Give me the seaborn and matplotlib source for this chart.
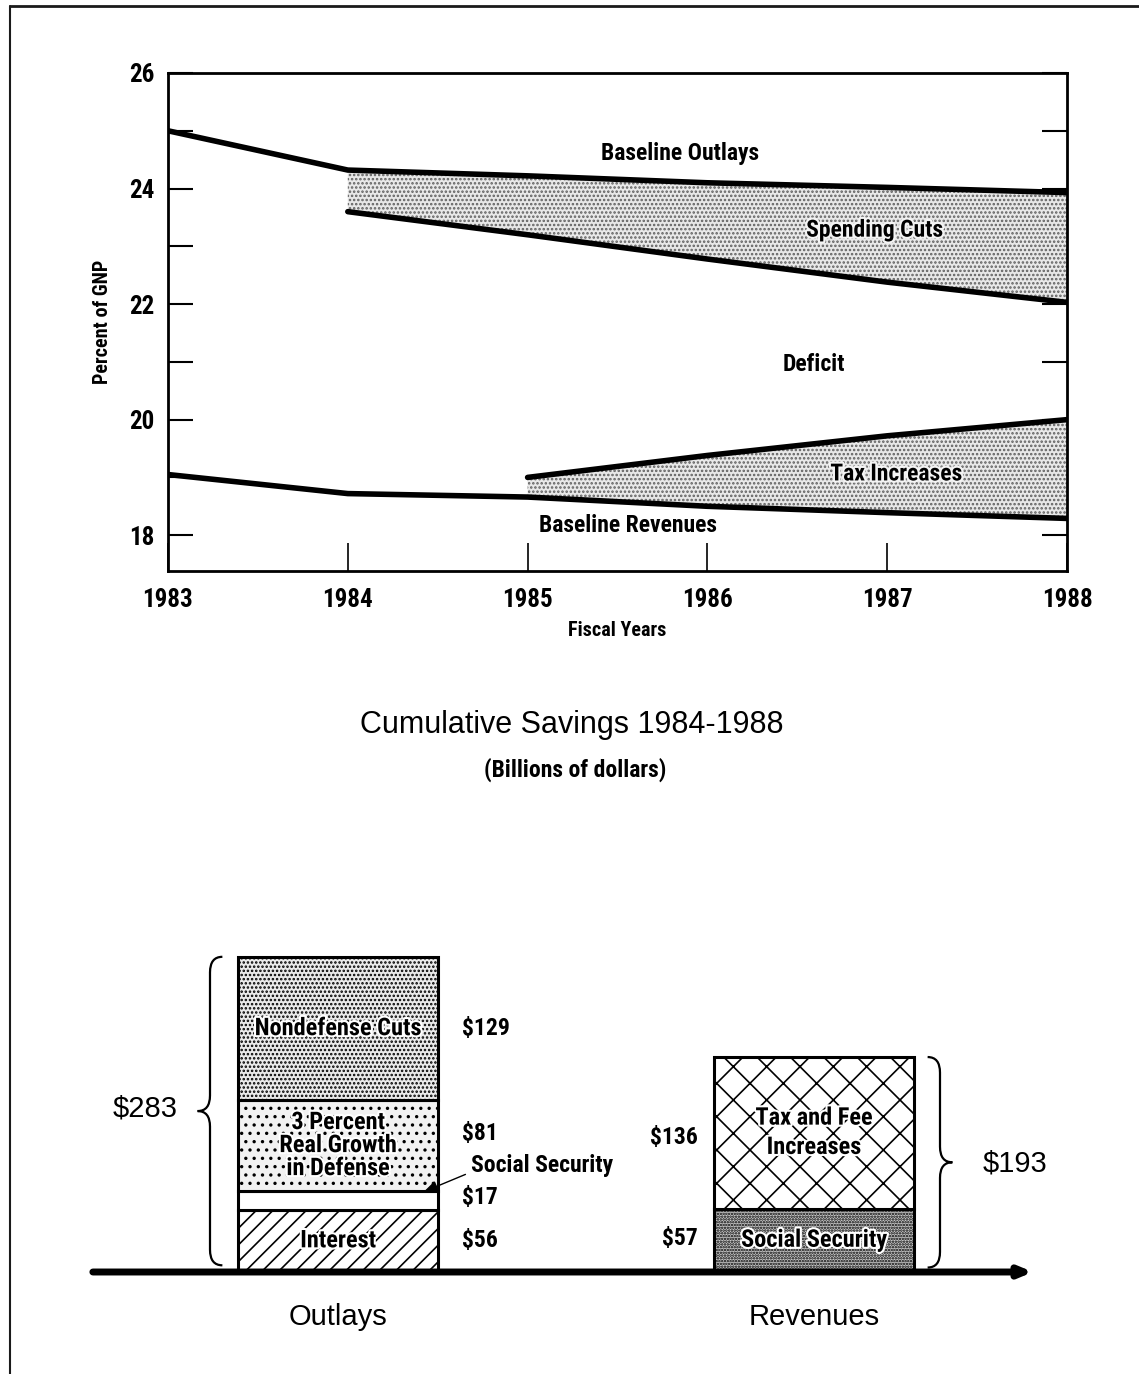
import numpy as np
import pandas as pd
import matplotlib
matplotlib.use("Agg")
import matplotlib.pyplot as plt
import matplotlib.patheffects as pe
from matplotlib.path import Path
from matplotlib.patches import PathPatch
from matplotlib.lines import Line2D
import seaborn as sns

# ---------------- data ----------------
years = [1983, 1984, 1985, 1986, 1987, 1988]
baseline_outlays = [25.0, 24.32, 24.22, 24.10, 24.02, 23.93]
cut_years = [1984, 1985, 1986, 1987, 1988]
outlays_after_cuts = [23.60, 23.20, 22.78, 22.38, 22.03]
tax_years = [1985, 1986, 1987, 1988]
revenues_after_tax = [19.00, 19.38, 19.72, 20.00]
baseline_revenues = [19.05, 18.72, 18.66, 18.50, 18.39, 18.29]

groups = ["Outlays", "Revenues"]
outlay_parts = ["Interest", "Social Security", "3 Percent\nReal Growth\nin Defense", "Nondefense Cuts"]
outlay_values = [56, 17, 81, 129]
revenue_parts = ["Social Security", "Tax and Fee\nIncreases"]
revenue_values = [57, 136]

# ---------------- style ----------------
sns.set_theme(style="white")
COND = ['Roboto Condensed', 'Archivo Narrow', 'Liberation Sans Narrow', 'DejaVu Sans']
plt.rcParams['font.family'] = COND
plt.rcParams['hatch.linewidth'] = 1.2
plt.rcParams['axes.unicode_minus'] = False
BOLD = dict(fontweight='bold', color='black')
REG_FAMILY = ['Liberation Sans', 'DejaVu Sans']

W, H = 1139, 1374
fig = plt.figure(figsize=(W / 100, H / 100), dpi=100)
fig.patch.set_facecolor('white')

# page frame (scan border)
fig.add_artist(Line2D([10 / W, 10 / W], [0, 1 - 6 / H], transform=fig.transFigure, color='k', lw=1.5))
fig.add_artist(Line2D([10 / W, 1], [1 - 6 / H, 1 - 6 / H], transform=fig.transFigure, color='k', lw=2))

# ---------------- top chart ----------------
ax = fig.add_axes([168 / W, 1 - 571 / H, 899 / W, 498 / H])
ax.fill_between(cut_years, baseline_outlays[1:], outlays_after_cuts,
                facecolor='#e8e8e8', hatch='....', edgecolor='#606060', linewidth=0, zorder=1)
ax.fill_between(tax_years, baseline_revenues[2:], revenues_after_tax,
                facecolor='#e8e8e8', hatch='....', edgecolor='#606060', linewidth=0, zorder=1)

sns.lineplot(x=years, y=baseline_outlays, ax=ax, color='black', lw=4, zorder=3)
sns.lineplot(x=cut_years, y=outlays_after_cuts, ax=ax, color='black', lw=4, zorder=3)
sns.lineplot(x=tax_years, y=revenues_after_tax, ax=ax, color='black', lw=4, zorder=3)
sns.lineplot(x=years, y=baseline_revenues, ax=ax, color='black', lw=4, zorder=3)

ax.set_xlim(1983, 1988)
ax.set_ylim(17.38, 26.0)
ax.set_xticks(years)
ax.set_xticklabels([str(y) for y in years], fontsize=18, **BOLD)
ax.set_yticks([18, 20, 22, 24, 26])
ax.set_yticklabels(['18', '20', '22', '24', '26'], fontsize=18, **BOLD)
ax.set_yticks([19, 21, 23, 25], minor=True)
ax.tick_params(axis='y', which='both', direction='in', length=18, width=1.5,
               left=True, right=True, color='black', pad=10)
ax.tick_params(axis='x', which='major', direction='in', length=20, width=1.2,
               bottom=True, top=False, color='black', pad=12)
for s in ax.spines.values():
    s.set_visible(True)
    s.set_color('black')
    s.set_linewidth(2)
ax.set_xlabel('Fiscal Years', fontsize=14.5, labelpad=7, **BOLD)
ax.set_ylabel('Percent of GNP', fontsize=14.5, labelpad=12, **BOLD)

txt_kw = dict(ha='center', va='center', fontsize=17, **BOLD)
halo = [pe.withStroke(linewidth=3, foreground='#f4f4f4')]
ax.text(1985.85, 24.61, 'Baseline Outlays', **txt_kw)
ax.text(1986.93, 23.28, 'Spending Cuts', path_effects=halo, zorder=4, **txt_kw)
ax.text(1986.59, 20.96, 'Deficit', **txt_kw)
ax.text(1987.05, 19.06, 'Tax Increases', path_effects=halo, zorder=4, **txt_kw)
ax.text(1985.56, 18.16, 'Baseline Revenues', **txt_kw)

# ---------------- titles ----------------
fig.text(572 / W, 1 - 725 / H, 'Cumulative Savings 1984-1988', ha='center', va='center',
         fontsize=22, family=REG_FAMILY, color='black')
fig.text(575 / W, 1 - 770 / H, '(Billions of dollars)', ha='center', va='center',
         fontsize=17, **BOLD)

# ---------------- bottom chart ----------------
ax2 = fig.add_axes([0, 1 - 1272 / H, 1, 372 / H])
bw = 0.42
outlay_styles = [
    dict(color='white', hatch='//'),
    dict(color='white', hatch=''),
    dict(color='#f2f2f2', hatch='..'),
    dict(color='#eaeaea', hatch='....'),
]
revenue_styles = [
    dict(color='#c8c8c8', hatch='......'),
    dict(color='white', hatch='x'),
]

def stack(group, values, styles):
    bottoms = np.concatenate([[0], np.cumsum(values)[:-1]])
    for v, b, st in zip(values, bottoms, styles):
        sns.barplot(x=[group], y=[v], order=groups, bottom=b, width=bw, ax=ax2,
                    color=st['color'], saturation=1, errorbar=None,
                    hatch=st['hatch'], edgecolor='black', linewidth=2.2, zorder=2)
    return bottoms

ob = stack('Outlays', outlay_values, outlay_styles)
rb = stack('Revenues', revenue_values, revenue_styles)

ax2.set_xlim(-338 / 476, (W - 338) / 476)
ax2.set_ylim(0, 334)
for s in ax2.spines.values():
    s.set_visible(False)
ax2.set_yticks([])
ax2.set_xlabel('')
ax2.set_ylabel('')
ax2.set_xticks([0, 1])
ax2.set_xticklabels(groups, fontsize=21, family=REG_FAMILY, color='black')
ax2.tick_params(axis='x', length=0, pad=22)

# baseline
ax2.annotate('', xy=(1.46, 0), xytext=(-0.515, 0),
             arrowprops=dict(arrowstyle='-|>,head_length=0.6,head_width=0.25', lw=5, color='black',
                             shrinkA=0, shrinkB=0), zorder=5, annotation_clip=False)

# labels inside bars
white_halo = [pe.withStroke(linewidth=3, foreground='white')]
in_kw = dict(ha='center', va='center', fontsize=17.5, **BOLD)
for name, v, b in zip(outlay_parts, outlay_values, ob):
    if name == 'Social Security':
        continue
    ax2.text(0, b + v / 2, name, path_effects=white_halo, zorder=6, linespacing=1.0, **in_kw)
rev_spacing = [1.0, 1.35]
for name, v, b, ls in zip(revenue_parts, revenue_values, rb, rev_spacing):
    ax2.text(1, b + v / 2, name, path_effects=white_halo, zorder=6, linespacing=ls, **in_kw)

# value labels
val_kw = dict(va='center', fontsize=17, **BOLD)
dy_out = [0, 2, 11, 0]
for v, b, d in zip(outlay_values, ob, dy_out):
    ax2.text(bw / 2 + 0.05, b + v / 2 + d, f'${v}', ha='left', **val_kw)
dy_rev = [2, -4]
for v, b, d in zip(revenue_values, rb, dy_rev):
    ax2.text(1 - bw / 2 - 0.035, b + v / 2 + d, f'${v}', ha='right', **val_kw)

# social security annotation
ss_top = ob[1] + outlay_values[1]
ax2.annotate('Social Security', xy=(bw / 2 - 0.03, ss_top - 1), xytext=(0.28, ss_top + 23),
             ha='left', va='center', fontsize=17, **BOLD,
             arrowprops=dict(arrowstyle='-|>,head_length=0.5,head_width=0.2', lw=1, color='black',
                             shrinkA=2, shrinkB=0, relpos=(0, 0.2)))

# braces
def brace(axis, x, y0, y1, d, r, direction):
    tip = x + direction * d
    end = x - direction * d
    ym = (y0 + y1) / 2
    verts = [(end, y1), (x, y1), (x, y1 - r),
             (x, ym + r),
             (x, ym), (tip, ym),
             (x, ym), (x, ym - r),
             (x, y0 + r),
             (x, y0), (end, y0)]
    codes = [Path.MOVETO, Path.CURVE3, Path.CURVE3,
             Path.LINETO,
             Path.CURVE3, Path.CURVE3,
             Path.CURVE3, Path.CURVE3,
             Path.LINETO,
             Path.CURVE3, Path.CURVE3]
    axis.add_patch(PathPatch(Path(verts, codes), facecolor='none', edgecolor='black', lw=1.6, zorder=4))
    return ym

out_total = sum(outlay_values)
rev_total = sum(revenue_values)
ym = brace(ax2, (210 - 338) / 476, 6, out_total, 0.026, 14, -1)
ax2.text((145 - 338) / 476, ym + 2, f'${out_total}', ha='center', va='center', fontsize=21,
         family=REG_FAMILY, color='black')
ym = brace(ax2, (940 - 338) / 476, 4, rev_total, 0.026, 14, +1)
ax2.text((1015 - 338) / 476, ym - 1, f'${rev_total}', ha='center', va='center', fontsize=21,
         family=REG_FAMILY, color='black')

fig.savefig('out.png', dpi=100, facecolor='white')
